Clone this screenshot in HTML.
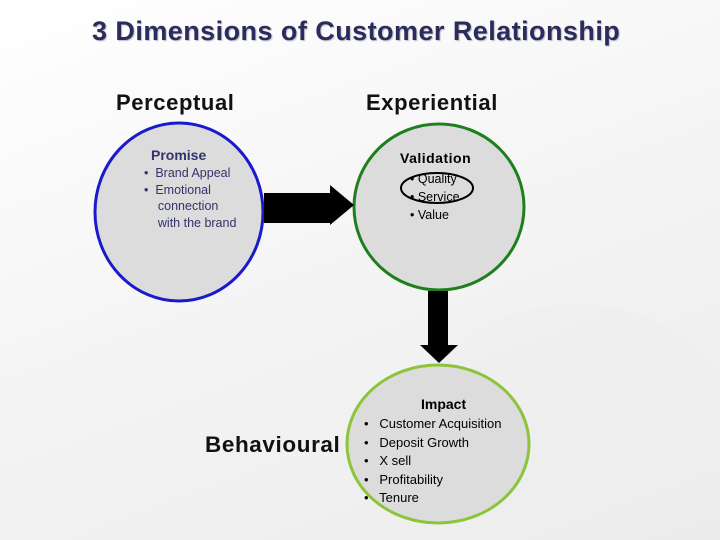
<!DOCTYPE html>
<html><head><style>
body{margin:0;width:720px;height:540px;overflow:hidden;font-family:"Liberation Sans",sans-serif;}
.bg{position:absolute;left:0;top:0;width:720px;height:540px;background:linear-gradient(160deg,#ffffff 0%,#f4f4f4 50%,#ececec 100%);}
.t{position:absolute;white-space:nowrap;}
.h{font-size:22px;font-weight:bold;letter-spacing:0.6px;color:#111;}
</style></head><body>
<div class="bg"></div>
<svg width="720" height="540" style="position:absolute;left:0;top:0">
  <ellipse cx="575" cy="400" rx="145" ry="95" fill="#eeeeee" opacity="0.5"/>
  <ellipse cx="179" cy="212" rx="84" ry="89" fill="#dcdcdc" stroke="#1a1acc" stroke-width="3"/>
  <ellipse cx="439" cy="207" rx="85" ry="83" fill="#dcdcdc" stroke="#1f7f1f" stroke-width="3"/>
  <ellipse cx="438" cy="444" rx="91" ry="79" fill="#dcdcdc" stroke="#8cc43a" stroke-width="3"/>
  <polygon points="264,193 330,193 330,185 354,205 330,225 330,223 264,223" fill="#000"/>
  <polygon points="428,291 448,291 448,345 458,345 439,363 420,345 428,345" fill="#000"/>
  <ellipse cx="437" cy="188" rx="36" ry="15" fill="none" stroke="#000" stroke-width="2"/>
</svg>
<div class="t" style="left:92px;top:16px;font-size:27px;font-weight:bold;letter-spacing:0.45px;color:#2b2b5e;text-shadow:1px 1px 1px #bbb">3 Dimensions of Customer Relationship</div>
<div class="t h" style="left:116px;top:90px;">Perceptual</div>
<div class="t h" style="left:366px;top:90px;">Experiential</div>
<div class="t h" style="left:205px;top:432px;font-size:22.5px">Behavioural</div>
<div class="t" style="left:151px;top:147px;font-size:14px;font-weight:bold;color:#33336b">Promise</div>
<div class="t" style="left:144px;top:165px;font-size:12.5px;line-height:16.5px;color:#33336b">•&nbsp; Brand Appeal<br>•&nbsp; Emotional<br>&nbsp;&nbsp;&nbsp; connection<br>&nbsp;&nbsp;&nbsp; with the brand</div>
<div class="t" style="left:400px;top:150px;font-size:14px;font-weight:bold;letter-spacing:0.5px">Validation</div>
<div class="t" style="left:410px;top:170px;font-size:12.5px;line-height:18px;">• Quality<br>• Service<br>• Value</div>
<div class="t" style="left:421px;top:396px;font-size:14px;font-weight:bold;">Impact</div>
<div class="t" style="left:364px;top:415px;font-size:13px;line-height:18.5px;">•&nbsp;&nbsp; Customer Acquisition<br>•&nbsp;&nbsp; Deposit Growth<br>•&nbsp;&nbsp; X sell<br>•&nbsp;&nbsp; Profitability<br>•&nbsp;&nbsp; Tenure</div>
</body></html>
